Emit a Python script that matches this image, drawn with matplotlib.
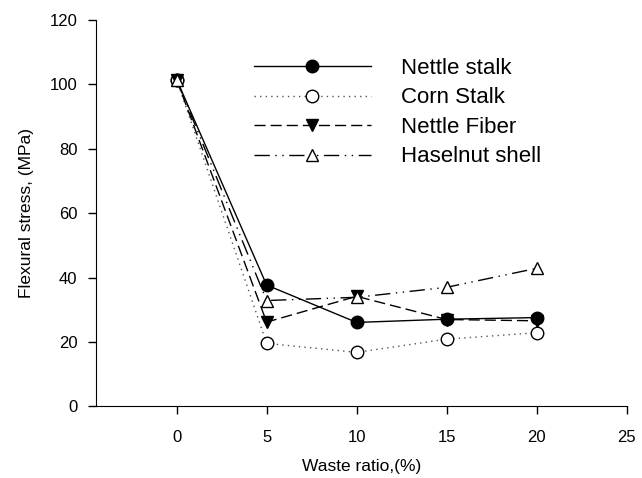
import matplotlib
matplotlib.use("Agg")
import matplotlib.pyplot as plt

plt.rcParams['font.family'] = ['Liberation Sans', 'DejaVu Sans']

# waste ratio (%) and flexural stress (MPa) per filler
ratio = [0, 5, 10, 15, 20]
nettle_stalk = [101.5, 37.7, 26.1, 27.1, 27.6]
corn_stalk = [101.5, 19.6, 16.8, 20.9, 22.9]
nettle_fiber = [101.5, 26.2, 34.2, 27.0, 26.6]
haselnut_shell = [101.5, 32.9, 33.9, 37.0, 42.9]

fig = plt.figure(figsize=(6.42, 4.78), dpi=100)
ax = fig.add_axes([0.149, 0.1496, 0.827, 0.8086])

ms = 9
ax.plot(ratio, nettle_stalk, color='black', lw=1.0, ls='-', marker='o',
        ms=ms, mfc='black', mec='black', label='Nettle stalk')
ax.plot(ratio, corn_stalk, color='#555555', lw=1.0, ls=(0, (1, 3)), marker='o',
        ms=ms, mfc='white', mec='black', label='Corn Stalk')
ax.plot(ratio, nettle_fiber, color='black', lw=1.0, ls=(0, (8, 3.6)), marker='v',
        ms=ms, mfc='black', mec='black', label='Nettle Fiber')
ax.plot(ratio, haselnut_shell, color='black', lw=1.0, ls=(0, (11, 4, 1, 4, 1, 4)),
        marker='^', ms=ms, mfc='white', mec='black', label='Haselnut shell')

ax.set_xlim(-4.5, 25)
ax.set_ylim(0, 120)
ax.set_xticks([0, 5, 10, 15, 20, 25])
ax.set_yticks([0, 20, 40, 60, 80, 100, 120])
ax.spines['top'].set_visible(False)
ax.spines['right'].set_visible(False)
ax.tick_params(direction='out', length=6, width=1, labelsize=12)
ax.tick_params(axis='x', pad=11)
ax.tick_params(axis='y', pad=7)
ax.set_xlabel('Waste ratio,(%)', fontsize=12.5, labelpad=10)
ax.set_ylabel('Flexural stress, (MPa)', fontsize=12.5, labelpad=11.5)

ax.legend(loc='upper left', bbox_to_anchor=(0.298, 0.9015), frameon=False,
          fontsize=16, handlelength=5.27, handletextpad=1.35, labelspacing=0.38,
          borderpad=0, borderaxespad=0, numpoints=1)

fig.savefig('out.png', dpi=100)
